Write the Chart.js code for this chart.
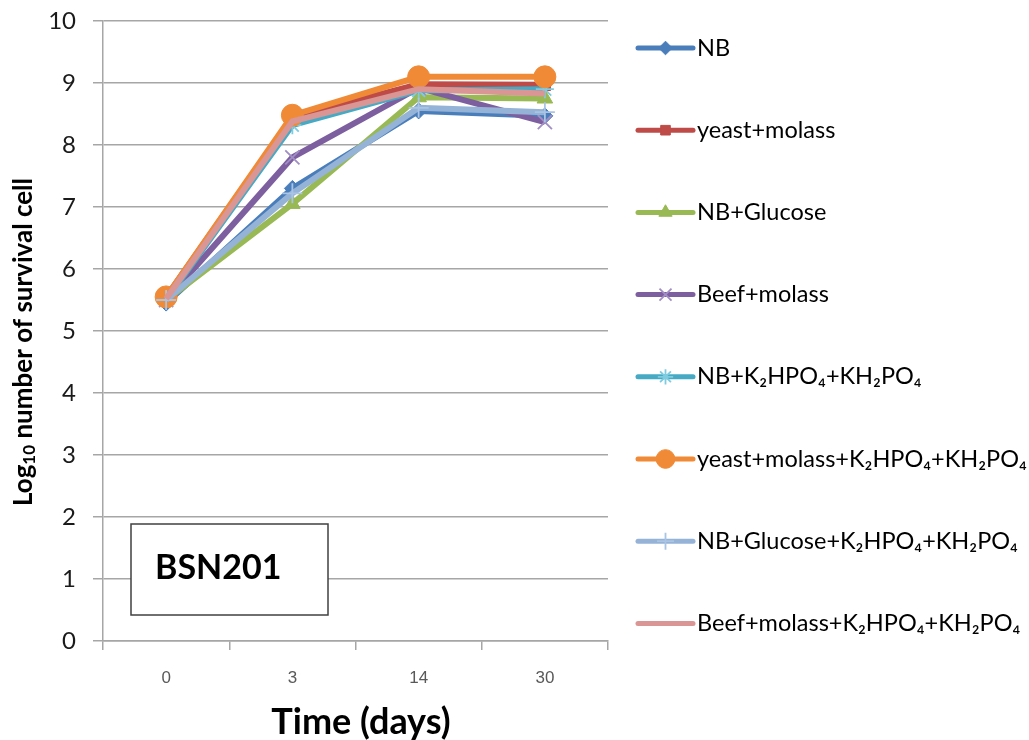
<!DOCTYPE html>
<html>
<head>
<meta charset="utf-8">
<script src="https://cdn.jsdelivr.net/npm/chart.js@4.4.1/dist/chart.umd.min.js"></script>
<style>
  html, body { margin: 0; padding: 0; background: #ffffff; }
  #wrap { width: 1029px; height: 740px; }
</style>
</head>
<body>
<div id="wrap"><canvas id="c" width="1029" height="740"></canvas></div>
<script>
// ---- data ----
const categories = ["0", "3", "14", "30"];
const seriesLabels = [
  "NB",
  "yeast+molass",
  "NB+Glucose",
  "Beef+molass",
  "NB+K₂HPO₄+KH₂PO₄",
  "yeast+molass+K₂HPO₄+KH₂PO₄",
  "NB+Glucose+K₂HPO₄+KH₂PO₄",
  "Beef+molass+K₂HPO₄+KH₂PO₄"
];
const nb            = [5.45, 7.30, 8.55, 8.47];
const yeastMolass   = [5.55, 8.45, 8.98, 8.97];
const nbGlucose     = [5.50, 7.05, 8.77, 8.75];
const beefMolass    = [5.50, 7.80, 8.92, 8.37];
const nbK           = [5.50, 8.32, 8.88, 8.90];
const yeastMolassK  = [5.55, 8.48, 9.10, 9.10];
const nbGlucoseK    = [5.50, 7.22, 8.60, 8.53];
const beefMolassK   = [5.52, 8.38, 8.90, 8.83];
const yTicks = [0, 1, 2, 3, 4, 5, 6, 7, 8, 9, 10];

const seriesValues = [nb, yeastMolass, nbGlucose, beefMolass, nbK, yeastMolassK, nbGlucoseK, beefMolassK];
const colors = ["#4a7ebb", "#be4b48", "#98b954", "#7d5fa0", "#46aac5", "#f08a36", "#95b3d7", "#d99694"];
const markerColors = ["#4a7ebb", "#be4b48", "#98b954", "#a08ec4", "#7fcbe0", "#f08a36", "#a9c4e4", "#d99694"];
const pointStyles = ["rectRot", "rect", "triangle", "crossRot", "star", "circle", "cross", false];
const pointRadii = [8, 8, 9, 10, 9, 11, 10, 0];
const pointBorderW = [1, 1, 1, 1.8, 1.8, 1, 1.8, 0];

const datasets = seriesValues.map((vals, i) => ({
  label: seriesLabels[i],
  data: vals,
  borderColor: colors[i],
  backgroundColor: markerColors[i],
  borderWidth: 6,
  tension: 0,
  fill: false,
  pointStyle: pointStyles[i],
  pointRadius: pointRadii[i],
  pointHoverRadius: pointRadii[i],
  pointBorderColor: markerColors[i],
  pointBackgroundColor: markerColors[i],
  pointBorderWidth: pointBorderW[i],
  order: seriesValues.length - i
}));

const GRID = "#a6a6a6";

const decorPlugin = {
  id: "decor",
  afterDraw(chart) {
    const ctx = chart.ctx;
    ctx.save();

    // BSN201 box
    ctx.fillStyle = "#ffffff";
    ctx.fillRect(131, 524, 197, 91);
    ctx.strokeStyle = "#404040";
    ctx.lineWidth = 1.5;
    ctx.strokeRect(131, 524, 197, 91);
    ctx.fillStyle = "#000000";
    ctx.font = "bold 34px Lato";
    ctx.textAlign = "left";
    ctx.textBaseline = "middle";
    ctx.fillText("BSN201", 155, 568);

    // X title
    ctx.font = "bold 36px Lato";
    ctx.textAlign = "center";
    ctx.textBaseline = "alphabetic";
    ctx.fillText("Time (days)", 361, 734);

    // Y title with subscript
    ctx.translate(24, 342);
    ctx.rotate(-Math.PI / 2);
    const p1 = "Log", p2 = "10", p3 = " number of survival cell";
    const fBig = "bold 26px Lato", fSmall = "bold 17px Lato";
    ctx.font = fBig; const w1 = ctx.measureText(p1).width; const w3 = ctx.measureText(p3).width;
    ctx.font = fSmall; const w2 = ctx.measureText(p2).width;
    let x = -(w1 + w2 + w3) / 2;
    ctx.textAlign = "left";
    ctx.textBaseline = "middle";
    ctx.font = fBig; ctx.fillText(p1, x, 0); x += w1;
    ctx.font = fSmall; ctx.fillText(p2, x, 6); x += w2;
    ctx.font = fBig; ctx.fillText(p3, x, 0);
    ctx.restore();

    // Legend
    ctx.save();
    const x0 = 638, x1 = 693, tx = 697, y0 = 48, dy = 82.2;
    chart.data.datasets.forEach((ds, i) => {
      const y = y0 + i * dy;
      ctx.strokeStyle = ds.borderColor;
      ctx.lineWidth = 5;
      ctx.lineCap = "round";
      ctx.beginPath();
      ctx.moveTo(x0, y);
      ctx.lineTo(x1, y);
      ctx.stroke();
      if (ds.pointStyle) {
        ctx.fillStyle = ds.pointBackgroundColor;
        ctx.strokeStyle = ds.pointBorderColor;
        ctx.lineWidth = ds.pointBorderWidth;
        ctx.lineCap = "butt";
        Chart.helpers.drawPoint(ctx, {
          pointStyle: ds.pointStyle,
          radius: ds.pointRadius * 0.85,
          rotation: 0,
          borderWidth: ds.pointBorderWidth
        }, (x0 + x1) / 2, y);
      }
      ctx.fillStyle = "#000000";
      ctx.font = "23.5px Lato";
      ctx.textAlign = "left";
      ctx.textBaseline = "middle";
      ctx.fillText(ds.label, tx, y);
    });
    ctx.restore();
  }
};

new Chart(document.getElementById("c"), {
  type: "line",
  data: { labels: categories, datasets },
  options: {
    responsive: false,
    animation: false,
    devicePixelRatio: 1,
    layout: { padding: { top: 21, right: 421, left: 0, bottom: 0 } },
    plugins: { legend: { display: false }, tooltip: { enabled: false } },
    scales: {
      x: {
        type: "category",
        offset: true,
        afterFit(s) { s.height = 99; s.paddingLeft = 0; s.paddingRight = 0; },
        grid: {
          offset: true,
          drawOnChartArea: false,
          drawTicks: true,
          tickLength: 9,
          color: GRID,
          lineWidth: 1.5
        },
        border: { display: true, color: GRID, width: 1.5 },
        ticks: {
          padding: 18,
          color: "#595959",
          font: { family: "Liberation Sans", size: 17 }
        }
      },
      y: {
        min: 0,
        max: 10,
        afterFit(s) { s.width = 103; s.paddingTop = 0; s.paddingBottom = 0; },
        afterBuildTicks(s) { s.ticks = yTicks.map(v => ({ value: v })); },
        grid: {
          drawTicks: true,
          tickLength: 10,
          color: GRID,
          lineWidth: 1.5
        },
        border: { display: true, color: GRID, width: 1.5 },
        ticks: {
          padding: 17,
          color: "#1a1a1a",
          font: { family: "Lato", size: 24 }
        }
      }
    }
  },
  plugins: [decorPlugin]
});
</script>
</body>
</html>
